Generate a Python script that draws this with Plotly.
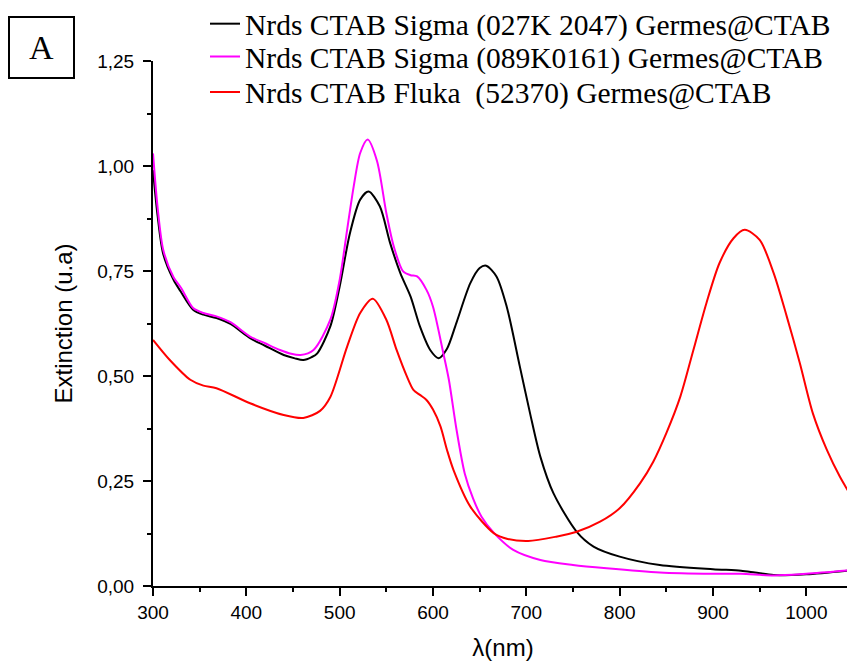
import plotly.graph_objects as go

# ---- data ----
wl_black = [300, 305, 311, 322, 330, 343, 354, 368, 383, 404, 420, 440, 452, 461, 470, 476, 490,
            500, 511, 522, 531, 543, 554, 565, 576, 586, 597, 606, 615, 625, 640, 650, 657, 668,
            679, 693, 704, 715, 729, 754, 772, 800, 843, 900, 930, 945, 965, 1000, 1050]
ext_black = [0.99, 0.88, 0.79, 0.729, 0.70, 0.658, 0.646, 0.638, 0.624, 0.590, 0.572, 0.550, 0.542,
             0.538, 0.545, 0.554, 0.618, 0.713, 0.840, 0.920, 0.939, 0.904, 0.817, 0.745, 0.689,
             0.618, 0.562, 0.5425, 0.565, 0.626, 0.721, 0.757, 0.7625, 0.737, 0.665, 0.523, 0.411,
             0.308, 0.221, 0.129, 0.094, 0.070, 0.050, 0.040, 0.0365, 0.032, 0.026, 0.028, 0.038]

wl_magenta = [300, 305, 311, 322, 330, 343, 354, 368, 383, 404, 420, 436, 448, 458, 472, 490, 500,
              508, 515, 522, 530, 540, 550, 558, 568, 576, 583, 593, 600, 611, 617, 625, 634, 643,
              652, 665, 686, 715, 750, 786, 843, 900, 930, 965, 1000, 1050]
ext_magenta = [1.03, 0.90, 0.80, 0.735, 0.71, 0.662, 0.650, 0.642, 0.628, 0.594, 0.578, 0.562,
               0.553, 0.550, 0.562, 0.634, 0.729, 0.848, 0.951, 1.031, 1.063, 1.012, 0.888, 0.808,
               0.749, 0.740, 0.737, 0.705, 0.665, 0.555, 0.491, 0.375, 0.268, 0.208, 0.165, 0.127,
               0.086, 0.062, 0.050, 0.042, 0.032, 0.029, 0.029, 0.025, 0.029, 0.038]

wl_red = [300, 318, 340, 354, 368, 404, 440, 461, 479, 490, 508, 522, 535.5, 550, 561, 572, 579,
          586, 593, 600, 608, 615, 622, 640, 665, 680, 702, 732, 754, 779, 800, 822, 836, 850, 865,
          879, 893, 907, 922, 934, 950, 965, 979, 993, 1007, 1022, 1036, 1050]
ext_red = [0.586, 0.538, 0.491, 0.477, 0.471, 0.435, 0.407, 0.400, 0.417, 0.450, 0.570, 0.650,
           0.684, 0.634, 0.562, 0.499, 0.467, 0.455, 0.443, 0.42, 0.380, 0.324, 0.276, 0.189,
           0.126, 0.112, 0.107, 0.1175, 0.129, 0.153, 0.185, 0.245, 0.296, 0.364, 0.451, 0.562,
           0.674, 0.769, 0.828, 0.848, 0.824, 0.745, 0.642, 0.531, 0.411, 0.324, 0.260, 0.207]

series_names = ["Nrds CTAB Sigma (027K 2047) Germes@CTAB",
                "Nrds CTAB Sigma (089K0161) Germes@CTAB",
                "Nrds CTAB Fluka  (52370) Germes@CTAB"]
series_colors = ["#000000", "#FF00FF", "#FF0000"]

x_tickvals = [300, 400, 500, 600, 700, 800, 900, 1000]
x_ticktext = ["300", "400", "500", "600", "700", "800", "900", "1000"]
y_tickvals = [0.0, 0.25, 0.5, 0.75, 1.0, 1.25]
y_ticktext = ["0,00", "0,25", "0,50", "0,75", "1,00", "1,25"]

# ---- figure (page body has an 8px margin, so the figure is 8px smaller) ----
W, H = 847, 656
ml, mr, mt, mb = 145, 2, 53, 78
pw, ph = W - ml - mr, H - mt - mb

sans = "Liberation Sans, Arial, sans-serif"
serif = "Liberation Serif, Times New Roman, serif"

legend_ids = ["legend", "legend2", "legend3"]
legend_rows = [16, 48.8, 84.3]  # vertical centres (figure px)

fig = go.Figure()
for wl, ext, name, col, lid in zip([wl_black, wl_magenta, wl_red],
                                   [ext_black, ext_magenta, ext_red],
                                   series_names, series_colors, legend_ids):
    fig.add_trace(go.Scatter(x=wl, y=ext, mode="lines", name=name, legend=lid,
                             line=dict(color=col, width=2, shape="spline", smoothing=0.8)))

legend_common = dict(xanchor="left", yanchor="middle",
                     font=dict(family=serif, size=29.5, color="black"),
                     bgcolor="rgba(0,0,0,0)", borderwidth=0, itemwidth=30)
layout_legends = {}
for lid, yc in zip(legend_ids, legend_rows):
    layout_legends[lid] = dict(x=(197 - ml) / pw, y=1 + (mt - yc) / ph, **legend_common)

fig.update_layout(
    width=W, height=H,
    margin=dict(l=ml, r=mr, t=mt, b=mb, autoexpand=False),
    plot_bgcolor="white", paper_bgcolor="white",
    showlegend=True,
    font=dict(family=sans, color="black"),
    **layout_legends,
)

fig.update_xaxes(
    range=[300, 1050], showline=True, linecolor="black", linewidth=2, mirror=False,
    showgrid=False, zeroline=False,
    tickmode="array", tickvals=x_tickvals, ticktext=x_ticktext,
    ticks="outside", ticklen=8, tickwidth=2, tickcolor="black",
    tickfont=dict(family=sans, size=19, color="black"),
    minor=dict(ticks="outside", ticklen=4, tickwidth=2, tickcolor="black", tick0=300, dtick=50),
    title=dict(text="λ(nm)", font=dict(family=sans, size=24, color="black"), standoff=17),
)
fig.update_yaxes(
    range=[0, 1.25], showline=True, linecolor="black", linewidth=2, mirror=False,
    showgrid=False, zeroline=False,
    tickmode="array", tickvals=y_tickvals, ticktext=y_ticktext,
    ticks="outside", ticklen=8, tickwidth=2, tickcolor="black", ticklabelstandoff=5,
    tickfont=dict(family=sans, size=19, color="black"),
    minor=dict(ticks="outside", ticklen=4, tickwidth=2, tickcolor="black", tick0=0, dtick=0.125),
    title=dict(text="Extinction (u.a)", font=dict(family=sans, size=24, color="black"), standoff=18),
)

# panel label "A" in a box
fig.add_annotation(
    text="A", xref="paper", yref="paper",
    x=(33.6 - ml) / pw, y=1 + (mt - 39.8) / ph, xanchor="center", yanchor="middle",
    showarrow=False, font=dict(family=serif, size=34, color="black"),
    width=63, height=59, bordercolor="black", borderwidth=2, borderpad=0,
    align="center", valign="middle",
)

fig.write_html("out.html")
